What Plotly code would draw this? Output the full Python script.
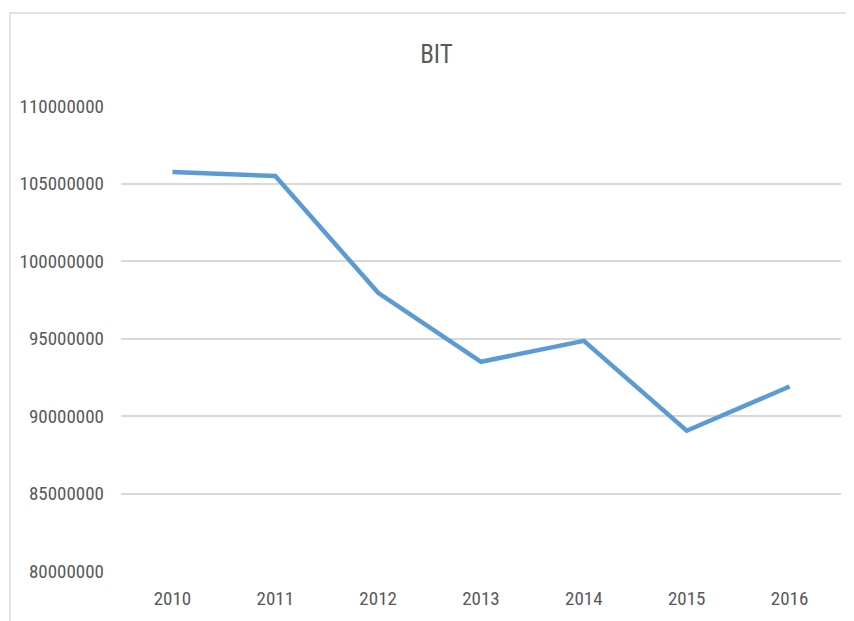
import plotly.graph_objects as go

years = ["2010", "2011", "2012", "2013", "2014", "2015", "2016"]
values = [105750000, 105480000, 97950000, 93500000, 94850000, 89050000, 91900000]
y_ticks = [80000000, 85000000, 90000000, 95000000, 100000000, 105000000, 110000000]

# page body has an ~8px offset; size figure to fill the rest of the window
OFF = 8
W, H = 854 - OFF, 621 - OFF
L, R, T = 121 - OFF, 13, 106 - OFF
ph = 465
B = H - T - ph
pw = W - L - R

fig = go.Figure()
fig.add_trace(go.Scatter(x=years, y=values, mode="lines",
                         line=dict(color="#5B9BD5", width=4.5), showlegend=False))

font = "Liberation Sans Narrow, Arial Narrow, Roboto Condensed, Liberation Sans, sans-serif"
fig.update_layout(
    width=W, height=H,
    margin=dict(l=L, r=R, t=T, b=B),
    paper_bgcolor="white", plot_bgcolor="white",
    title=dict(text="BIT", x=(436.5 - OFF) / W, xanchor="center",
               y=1 - (54 - OFF) / H, yanchor="middle",
               font=dict(family=font, size=25, color="#595959")),
    font=dict(family=font, size=19, color="#595959"),
    xaxis=dict(type="category", range=[-0.5, 6.5], showgrid=False, zeroline=False,
               showline=False, ticks="", ticklabelstandoff=14),
    yaxis=dict(range=[80000000, 110000000], tickvals=y_ticks,
               ticktext=[str(v) for v in y_ticks], showgrid=True,
               gridcolor="#D9D9D9", gridwidth=1.5, zeroline=False, showline=False,
               ticks="", ticklabelstandoff=16),
    shapes=[dict(type="rect", xref="paper", yref="paper",
                 x0=(10 - OFF - L) / pw, x1=(W + 20 - L) / pw,
                 y0=-(B + 20) / ph, y1=(H - B - (13 - OFF)) / ph,
                 line=dict(color="#D9D9D9", width=1.5), fillcolor="rgba(0,0,0,0)",
                 layer="below")],
)
fig.write_html("out.html")
